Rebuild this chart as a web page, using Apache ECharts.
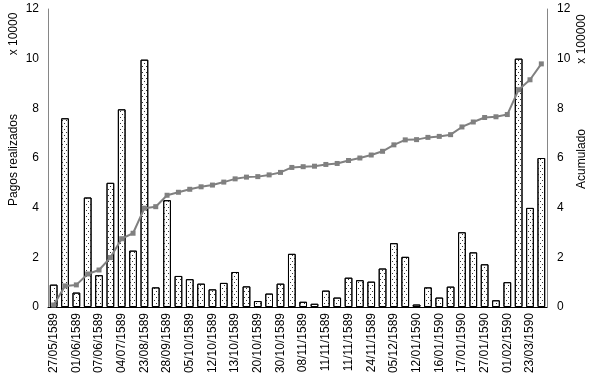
<!DOCTYPE html>
<html>
<head>
<meta charset="utf-8">
<script src="https://cdn.jsdelivr.net/npm/echarts@6/dist/echarts.min.js"></script>
<style>
html,body{margin:0;padding:0;background:#fff;}
#c{width:591px;height:386px;}
</style>
</head>
<body>
<div id="c"></div>
<script>
// Visible tick labels (every other category)
const tickLabels = ['27/05/1589','01/06/1589','07/06/1589','04/07/1589','23/08/1589','28/09/1589',
  '05/10/1589','12/10/1589','13/10/1589','20/10/1589','30/10/1589','08/11/1589','11/11/1589',
  '11/11/1589','24/11/1589','05/12/1589','12/01/1590','16/01/1590','17/01/1590','27/01/1590',
  '01/02/1590','23/03/1590'];

// Pagos realizados (x 10000)
const pagos = [0.9, 7.6, 0.58, 4.41, 1.28, 5.0, 7.96, 2.27, 9.96, 0.79, 4.30, 1.25, 1.12, 0.94, 0.71,
  0.97, 1.41, 0.83, 0.24, 0.54, 0.94, 2.14, 0.21, 0.13, 0.66, 0.38, 1.18, 1.08, 1.02, 1.55, 2.57,
  2.02, 0.1, 0.79, 0.38, 0.82, 3.01, 2.2, 1.72, 0.27, 1.0, 10.0, 3.99, 6.0];

// Acumulado (x 100000)
const acumulado = [0.08, 0.85, 0.89, 1.33, 1.49, 1.99, 2.75, 2.97, 3.98, 4.04, 4.50, 4.62, 4.74, 4.84,
  4.91, 5.03, 5.16, 5.23, 5.25, 5.32, 5.42, 5.62, 5.65, 5.67, 5.74, 5.78, 5.90, 6.00, 6.12, 6.27,
  6.53, 6.73, 6.74, 6.83, 6.87, 6.94, 7.25, 7.45, 7.63, 7.66, 7.75, 8.75, 9.15, 9.79];

const yTicks = [0, 2, 4, 6, 8, 10, 12];

// Categories: labelled dates at even positions, unlabelled ones in between
const categories = [];
tickLabels.forEach(function (t, i) { categories.push(t); categories.push(' '.repeat(i + 1)); });

const font = 'Liberation Sans, Arial, sans-serif';
const chart = echarts.init(document.getElementById('c'), null, {renderer: 'canvas'});
chart.setOption({
  animation: false,
  grid: {left: 48, right: 44, top: 9, bottom: 79},
  xAxis: {
    type: 'category',
    data: categories,
    axisLine: {lineStyle: {color: '#000', width: 1}},
    axisTick: {show: false},
    axisLabel: {interval: 1, rotate: 90, color: '#000', fontSize: 12, fontFamily: font, margin: 6}
  },
  yAxis: [{
    type: 'value', min: yTicks[0], max: yTicks[yTicks.length - 1], interval: 2,
    axisLine: {show: true, lineStyle: {color: '#868686'}},
    axisTick: {show: false}, splitLine: {show: false},
    axisLabel: {color: '#000', fontSize: 12, fontFamily: font, margin: 9}
  }, {
    type: 'value', min: yTicks[0], max: yTicks[yTicks.length - 1], interval: 2,
    axisLine: {show: true, lineStyle: {color: '#868686'}},
    axisTick: {show: false}, splitLine: {show: false},
    axisLabel: {color: '#000', fontSize: 12, fontFamily: font, margin: 10}
  }],
  series: [{
    type: 'bar',
    data: pagos,
    barCategoryGap: '32%',
    itemStyle: {
      color: '#fff', borderColor: '#000', borderWidth: 1,
      decal: {symbol: 'rect', symbolSize: 1, color: '#333',
        dashArrayX: [[1, 3], [0, 2, 1, 1]], dashArrayY: [1, 2], rotation: 0}
    },
    z: 1
  }, {
    type: 'line',
    yAxisIndex: 1,
    data: acumulado,
    symbol: 'rect', symbolSize: 5,
    lineStyle: {color: '#808080', width: 2},
    itemStyle: {color: '#808080'},
    z: 3
  }],
  graphic: [
    {type: 'text', x: 14, y: 34, rotation: Math.PI / 2,
      style: {text: 'x 10000', fill: '#000', font: '12px ' + font, textAlign: 'center', textVerticalAlign: 'middle'}},
    {type: 'text', x: 14, y: 160, rotation: Math.PI / 2,
      style: {text: 'Pagos realizados', fill: '#000', font: '12px ' + font, textAlign: 'center', textVerticalAlign: 'middle'}},
    {type: 'text', x: 582, y: 39, rotation: Math.PI / 2,
      style: {text: 'x 100000', fill: '#000', font: '12px ' + font, textAlign: 'center', textVerticalAlign: 'middle'}},
    {type: 'text', x: 582, y: 159, rotation: Math.PI / 2,
      style: {text: 'Acumulado', fill: '#000', font: '12px ' + font, textAlign: 'center', textVerticalAlign: 'middle'}}
  ]
});
</script>
</body>
</html>
